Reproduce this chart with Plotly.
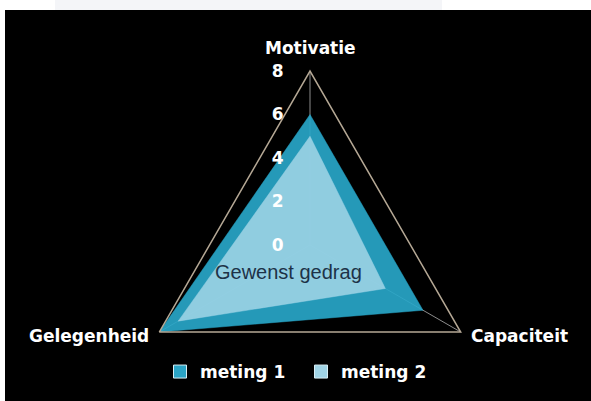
import plotly.graph_objects as go

categories = ["Motivatie", "Capaciteit", "Gelegenheid"]
meting_1 = [6, 6, 8]
meting_2 = [5, 4, 7]
radial_ticks = [0, 2, 4, 6, 8]

W, H = 591, 440  # page is taller than the 401 px window; bottom part is empty


def px_x(x):
    return x / W


def px_y(y):
    return 1 - y / H


_SERIES = [
    ("meting 1", meting_1, "rgba(40,166,200,0.92)", "#2aa4c6"),
    ("meting 2", meting_2, "rgba(162,213,231,0.86)", "#a0d4e6"),
]

# where each category name sits next to its corner (pixels from top-left)
_CAT_LABELS = {
    "Motivatie": dict(x=310, y=48, xanchor="center"),
    "Capaciteit": dict(x=469, y=336, xanchor="left"),
    "Gelegenheid": dict(x=151, y=336, xanchor="right"),
}

fig = go.Figure()

for name, values, fill, icon in _SERIES:
    fig.add_trace(
        go.Scatterpolar(
            r=values + values[:1],
            theta=categories + categories[:1],
            mode="lines",
            fill="toself",
            fillcolor=fill,
            line=dict(width=0.5, color=fill),
            name=name,
            showlegend=False,
            hoverinfo="skip",
        )
    )

# legend entries with small square icons
for name, values, fill, icon in _SERIES:
    fig.add_trace(
        go.Scatterpolar(
            r=[None],
            theta=[categories[0]],
            mode="markers",
            marker=dict(symbol="square", size=13, color=icon, line=dict(width=1, color="#d8eef5")),
            name=name,
            showlegend=True,
        )
    )

label_font = dict(family="DejaVu Sans", size=17, color="white", weight="bold")

for cat in categories:
    pos = _CAT_LABELS[cat]
    fig.add_annotation(
        x=px_x(pos["x"]),
        y=px_y(pos["y"]),
        xref="paper",
        yref="paper",
        xanchor=pos["xanchor"],
        yanchor="middle",
        text=cat,
        showarrow=False,
        font=label_font,
    )

fig.add_annotation(
    x=px_x(288),
    y=px_y(272),
    xref="paper",
    yref="paper",
    text="Gewenst gedrag",
    showarrow=False,
    font=dict(family="Liberation Sans, Arial", size=20, color="#1d3247"),
)

# white page edges and the grey band at the top
fig.add_shape(type="rect", xref="paper", yref="paper", x0=px_x(5), x1=1, y0=0, y1=px_y(10),
              fillcolor="black", line_width=0, layer="below")
fig.add_shape(type="rect", xref="paper", yref="paper", x0=px_x(55), x1=px_x(442), y0=px_y(10), y1=1,
              fillcolor="#f4f5f8", line_width=0, layer="below")

fig.update_layout(
    width=W,
    height=H,
    paper_bgcolor="white",
    margin=dict(l=0, r=0, t=0, b=0),
    polar=dict(
        domain=dict(x=[px_x(136), px_x(484)], y=[px_y(419), px_y(71)]),
        bgcolor="rgba(0,0,0,0)",
        gridshape="linear",
        radialaxis=dict(
            range=[0, 8],
            tickvals=radial_ticks,
            angle=90,
            side="counterclockwise",
            showgrid=False,
            showline=False,
            ticks="outside",
            ticklen=20,
            tickcolor="rgba(0,0,0,0)",
            tickfont=label_font,
            tickangle=90,
        ),
        angularaxis=dict(
            direction="clockwise",
            rotation=90,
            showline=True,
            linecolor="#b5a895",
            linewidth=1.5,
            showgrid=True,
            gridcolor="#8c8c8c",
            gridwidth=1,
            ticks="",
            showticklabels=False,
        ),
    ),
    legend=dict(
        orientation="h",
        x=px_x(160),
        y=px_y(372),
        xanchor="left",
        yanchor="middle",
        font=label_font,
        bgcolor="rgba(0,0,0,0)",
        entrywidth=96,
    ),
)

# drop the default body margin so the chart sits at the window's top-left corner
fig.write_html(
    "out.html",
    config={"displayModeBar": False},
    post_script="document.body.style.margin='0';document.body.style.overflow='hidden';",
)
